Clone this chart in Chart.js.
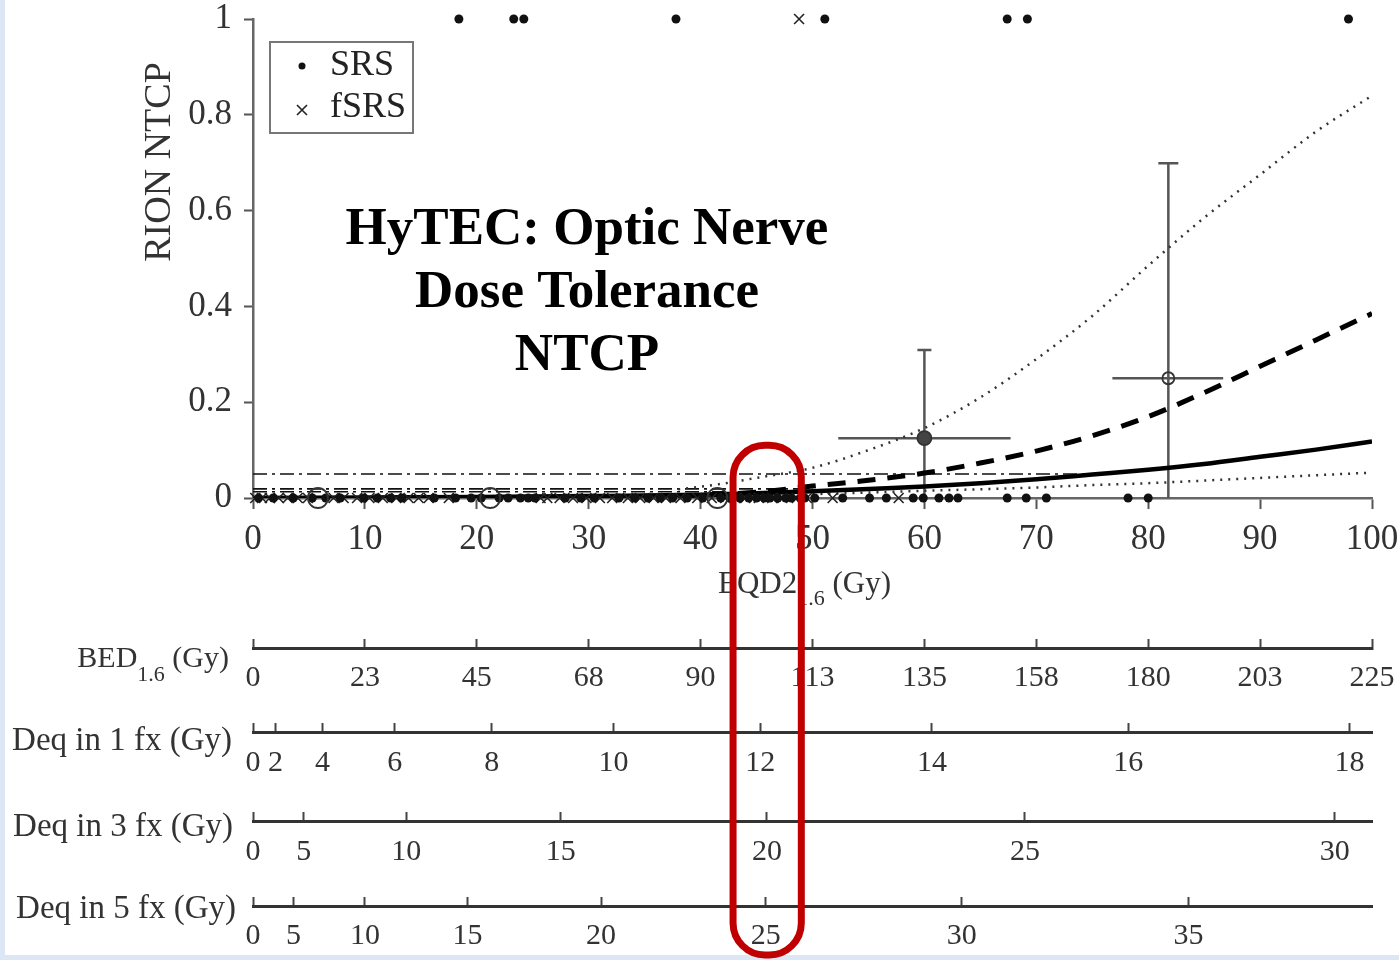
<!DOCTYPE html>
<html>
<head>
<meta charset="utf-8">
<script src="https://cdn.jsdelivr.net/npm/chart.js@4.4.0/dist/chart.umd.min.js"></script>
<style>
  html, body { margin: 0; padding: 0; background: #fff; }
  #wrap { width: 1399px; height: 960px; }
</style>
</head>
<body>
<div id="wrap"><canvas id="ntcpChart" width="1399" height="960"></canvas></div>
<script>
/* ============================================================
   DATA
============================================================ */

// model curves (EQD2 in Gy -> NTCP)
const curveX   = [0, 10, 20, 30, 40, 45, 50, 55, 60, 65, 70, 75, 80, 85, 90, 95, 100];
const ntcpFit  = [0, 0.001, 0.002, 0.004, 0.007, 0.010, 0.014, 0.019, 0.024, 0.031, 0.039, 0.049, 0.059, 0.071, 0.086, 0.101, 0.118];
const upperX   = [38, 42, 45, 50, 55, 60, 65, 70, 75, 80, 85, 90, 95, 100];
const ntcpDash = [0.004, 0.008, 0.012, 0.025, 0.037, 0.052, 0.073, 0.098, 0.13, 0.17, 0.22, 0.275, 0.33, 0.385];
const ciHigh   = [0.018, 0.03, 0.042, 0.063, 0.1, 0.146, 0.21, 0.29, 0.38, 0.485, 0.585, 0.675, 0.765, 0.84];
const lowerX   = [50, 60, 70, 75, 80, 90, 100];
const ciLow    = [0.008, 0.015, 0.022, 0.027, 0.031, 0.042, 0.053];

// dash-dot reference levels
const refLevels = [0.05, 0.019, 0.013];
const refEnds   = [75, 50, 47];

// patient data
const srsZeroX = [0.5, 1.8, 3.6, 5.3, 6.5, 7.8, 9.9, 11.1, 12.3, 13.3, 16.2, 18.1, 19.5, 20.4, 22.0, 22.8,
                  23.9, 24.6, 25.2, 27.9, 29.3, 30.5, 32.7, 34.1, 35.3, 36.4, 37.5, 38.8, 40.2, 41.8, 42.6,
                  43.5, 44.3, 45.0, 45.7, 46.2, 46.9, 47.6, 48.1, 48.9, 49.3, 50.2, 52.7, 55.1, 56.6, 59.0,
                  59.9, 61.3, 62.2, 63.0, 67.4, 69.1, 70.9, 78.2, 80.0];
const srsOneX  = [18.4, 23.3, 24.2, 37.8, 51.1, 67.4, 69.2, 97.9];
const fsrsZeroX = [0.2, 0.8, 1.5, 2.3, 3.1, 4.0, 4.9, 7.2, 8.1, 9.3, 10.4, 11.6, 12.8, 13.9, 14.8, 15.7,
                   17.5, 25.7, 26.3, 27.4, 28.6, 29.8, 31.0, 32.1, 33.5, 34.6, 35.8, 36.9, 38.2, 39.7, 41.0,
                   42.2, 43.1, 44.0, 45.2, 46.4, 47.3, 48.6, 49.5, 51.8, 57.7];
const fsrsOneX  = [48.8];

// binned observed rates with error bars
const binX   = [5.8, 21.2, 41.5, 60.0, 81.8];
const binY   = [0, 0, 0, 0.125, 0.25];
const binXlo = [5.8, 21.2, 41.5, 52.3, 76.8];
const binXhi = [5.8, 21.2, 41.5, 67.7, 86.7];
const binYlo = [0, 0, 0, 0, 0];
const binYhi = [0, 0, 0, 0.309, 0.699];

// axis ticks
const yTicks    = [0, 0.2, 0.4, 0.6, 0.8, 1];
const bedLabels = [0, 23, 45, 68, 90, 113, 135, 158, 180, 203, 225];
const bedAt     = [0, 10, 20, 30, 40, 50, 60, 70, 80, 90, 100];
const fx1Labels = [0, 2, 4, 6, 8, 10, 12, 14, 16, 18];
const fx1At     = [0, 2.0, 6.22, 12.67, 21.33, 32.22, 45.33, 60.67, 78.22, 98.0];
const fx3Labels = [0, 5, 10, 15, 20, 25, 30];
const fx3At     = [0, 4.54, 13.7, 27.5, 45.93, 68.98, 96.67];
const fx5Labels = [0, 5, 10, 15, 20, 25, 30, 35];
const fx5At     = [0, 3.61, 10, 19.17, 31.11, 45.83, 63.33, 83.61];

const serif = "'Liberation Serif', 'Times New Roman', serif";
const toPts = (xs, ys) => xs.map((x, i) => ({ x: x, y: Array.isArray(ys) ? ys[i] : ys }));

/* ============================================================
   PLUGINS
============================================================ */

const framePlugin = {
    id: "frame",
    beforeDraw(chart) {
        const c = chart.ctx;
        c.save();
        c.fillStyle = "#dce6f4";
        c.fillRect(0, 0, chart.width, chart.height);
        c.fillStyle = "#ffffff";
        c.fillRect(5, 0, chart.width - 5, chart.height - 5);
        c.restore();
    }
};

const errorBarPlugin = {
    id: "errorBars",
    beforeDatasetsDraw(chart) {
        const c = chart.ctx, xs = chart.scales.x, ys = chart.scales.y;
        c.save();
        c.strokeStyle = "#555";
        c.lineWidth = 2.5;
        binX.forEach((x, i) => {
            const px = xs.getPixelForValue(x), py = ys.getPixelForValue(binY[i]);
            if (binXhi[i] > binXlo[i]) {
                c.beginPath();
                c.moveTo(xs.getPixelForValue(binXlo[i]), py);
                c.lineTo(xs.getPixelForValue(binXhi[i]), py);
                c.stroke();
            }
            if (binYhi[i] > binYlo[i]) {
                const top = ys.getPixelForValue(binYhi[i]);
                const cap = i === 3 ? 7 : 10;
                c.beginPath();
                c.moveTo(px, ys.getPixelForValue(binYlo[i]));
                c.lineTo(px, top);
                c.moveTo(px - cap, top);
                c.lineTo(px + cap, top);
                c.stroke();
            }
        });
        c.restore();
    }
};

function drawSub(c, parts, right, y) {
    // parts: [text, size, dy]
    let total = 0;
    parts.forEach(p => { c.font = p[1] + "px " + serif; total += c.measureText(p[0]).width; });
    let x = right - total;
    parts.forEach(p => {
        c.font = p[1] + "px " + serif;
        c.fillText(p[0], x, y + p[2]);
        x += c.measureText(p[0]).width;
    });
}

const textPlugin = {
    id: "texts",
    afterDraw(chart) {
        const c = chart.ctx, xs = chart.scales.x, ys = chart.scales.y;
        c.save();

        // title
        c.fillStyle = "#000";
        c.textAlign = "center";
        c.textBaseline = "middle";
        c.font = "bold 53px " + serif;
        c.fillText("HyTEC: Optic Nerve", 587, 230);
        c.fillText("Dose Tolerance", 587, 293);
        c.fillText("NTCP", 587, 356);

        // y axis title
        c.fillStyle = "#333";
        c.save();
        c.translate(160, 162);
        c.rotate(-Math.PI / 2);
        c.font = "38px " + serif;
        c.fillText("RION NTCP", 0, 0);
        c.restore();

        // x axis title
        c.textAlign = "left";
        c.textBaseline = "alphabetic";
        drawSub(c, [["EQD2", 31, 0], ["1.6", 22, 12], [" (Gy)", 31, 0]], 891, 593);

        // lower axis names
        drawSub(c, [["BED", 30, 0], ["1.6", 22, 14], [" (Gy)", 30, 0]], 229, 667);
        drawSub(c, [["Deq in 1 fx (Gy)", 33, 0]], 232, 750);
        drawSub(c, [["Deq in 3 fx (Gy)", 33, 0]], 233, 836);
        drawSub(c, [["Deq in 5 fx (Gy)", 33, 0]], 236, 918);

        // legend
        c.strokeStyle = "#777";
        c.lineWidth = 2;
        c.strokeRect(270, 42, 143, 91);
        c.fillStyle = "#111";
        c.beginPath();
        c.arc(302, 66, 3.5, 0, Math.PI * 2);
        c.fill();
        c.strokeStyle = "#222";
        c.lineWidth = 1.6;
        c.beginPath();
        c.moveTo(297, 105); c.lineTo(307, 115);
        c.moveTo(307, 105); c.lineTo(297, 115);
        c.stroke();
        c.fillStyle = "#222";
        c.textBaseline = "middle";
        c.font = "36px " + serif;
        c.fillText("SRS", 330, 66);
        c.fillText("fSRS", 330, 108);

        // red highlight around 20 Gy in 3 fx
        const l = xs.getPixelForValue(42.9), r = xs.getPixelForValue(49.0);
        const t = ys.getPixelForValue(0.11), b = chart.height - 5;
        c.strokeStyle = "#c00000";
        c.lineWidth = 7;
        c.beginPath();
        c.roundRect(l, t, r - l, b - t, 32);
        c.stroke();

        c.restore();
    }
};

/* ============================================================
   AXES
============================================================ */

const noPad = s => { s.paddingLeft = 0; s.paddingRight = 0; s.paddingTop = 0; s.paddingBottom = 0; };

function lowerAxis(yValue, at, labels) {
    return {
        type: "linear",
        axis: "x",
        position: { y: yValue },
        min: 0,
        max: 100,
        afterFit: noPad,
        afterBuildTicks: s => { s.ticks = at.map(v => ({ value: v })); },
        ticks: {
            autoSkip: false,
            maxRotation: 0,
            padding: 23,
            color: "#333",
            font: { family: serif, size: 30 },
            callback: (v, i) => labels[i]
        },
        grid: { drawOnChartArea: false, tickLength: -11, tickWidth: 2, tickColor: "#444" },
        border: { color: "#333", width: 3 }
    };
}

/* ============================================================
   CHART
============================================================ */

const ctx = document.getElementById("ntcpChart");
new Chart(ctx, {
    type: "scatter",
    data: {
        datasets: [
            {
                label: "binned",
                data: toPts(binX, binY),
                pointRadius: [10, 10, 10, 7, 6],
                pointBackgroundColor: ["rgba(0,0,0,0)", "rgba(0,0,0,0)", "rgba(0,0,0,0)", "#444", "rgba(0,0,0,0)"],
                pointBorderColor: "#333",
                pointBorderWidth: 1.8,
                clip: false
            },
            {
                label: "SRS",
                data: toPts(srsZeroX, 0).concat(toPts(srsOneX, 1)),
                pointRadius: 4.5,
                pointBackgroundColor: "#111",
                pointBorderColor: "#111",
                pointBorderWidth: 0,
                clip: false
            },
            {
                label: "fSRS",
                data: toPts(fsrsZeroX, 0).concat(toPts(fsrsOneX, 1)),
                pointStyle: "crossRot",
                pointRadius: 7,
                pointBorderColor: "#222",
                pointBorderWidth: 1.6,
                clip: false
            },
            {
                label: "fit",
                data: toPts(curveX, ntcpFit),
                showLine: true,
                borderColor: "#000",
                borderWidth: 4.5,
                pointRadius: 0,
                cubicInterpolationMode: "monotone"
            },
            {
                label: "fit dashed",
                data: toPts(upperX, ntcpDash),
                showLine: true,
                borderColor: "#000",
                borderWidth: 5,
                borderDash: [18, 12],
                pointRadius: 0,
                cubicInterpolationMode: "monotone"
            },
            {
                label: "upper CI",
                data: toPts(upperX, ciHigh),
                showLine: true,
                borderColor: "#333",
                borderWidth: 2.5,
                borderDash: [2, 6],
                pointRadius: 0,
                cubicInterpolationMode: "monotone"
            },
            {
                label: "lower CI",
                data: toPts(lowerX, ciLow),
                showLine: true,
                borderColor: "#333",
                borderWidth: 2.5,
                borderDash: [2, 6],
                pointRadius: 0,
                cubicInterpolationMode: "monotone"
            },
            ...refLevels.map((lv, i) => ({
                label: "ref " + lv,
                data: [{ x: 0, y: lv }, { x: refEnds[i], y: lv }],
                showLine: true,
                borderColor: "#111",
                borderWidth: 1.6,
                borderDash: [14, 5, 3, 5],
                pointRadius: 0
            }))
        ]
    },
    options: {
        responsive: false,
        animation: false,
        layout: { padding: { top: 19, right: 27, left: 0, bottom: 0 } },
        plugins: {
            legend: { display: false },
            tooltip: { enabled: false }
        },
        scales: {
            x: {
                type: "linear",
                position: "bottom",
                min: 0,
                max: 100,
                afterFit: s => { s.height = 462; noPad(s); },
                ticks: {
                    stepSize: 10,
                    maxRotation: 0,
                    padding: 10,
                    color: "#333",
                    font: { family: serif, size: 35 }
                },
                grid: { drawOnChartArea: false, tickLength: 11, tickWidth: 2, tickColor: "#555" },
                border: { color: "#666", width: 2.5 }
            },
            y: {
                type: "linear",
                position: "left",
                min: 0,
                max: 1,
                afterFit: s => { s.width = 253; noPad(s); },
                afterBuildTicks: s => { s.ticks = yTicks.map(v => ({ value: v })); },
                ticks: {
                    padding: 12,
                    color: "#333",
                    font: { family: serif, size: 35, lineHeight: 1 },
                    callback: v => (v === 0 || v === 1) ? String(v) : v.toFixed(1)
                },
                grid: { drawOnChartArea: false, tickLength: 9, tickWidth: 2, tickColor: "#555" },
                border: { color: "#666", width: 2.5 }
            },
            bed: lowerAxis(-0.3132, bedAt, bedLabels),
            fx1: lowerAxis(-0.4906, fx1At, fx1Labels),
            fx3: lowerAxis(-0.6764, fx3At, fx3Labels),
            fx5: lowerAxis(-0.8518, fx5At, fx5Labels)
        }
    },
    plugins: [framePlugin, errorBarPlugin, textPlugin]
});
</script>
</body>
</html>
